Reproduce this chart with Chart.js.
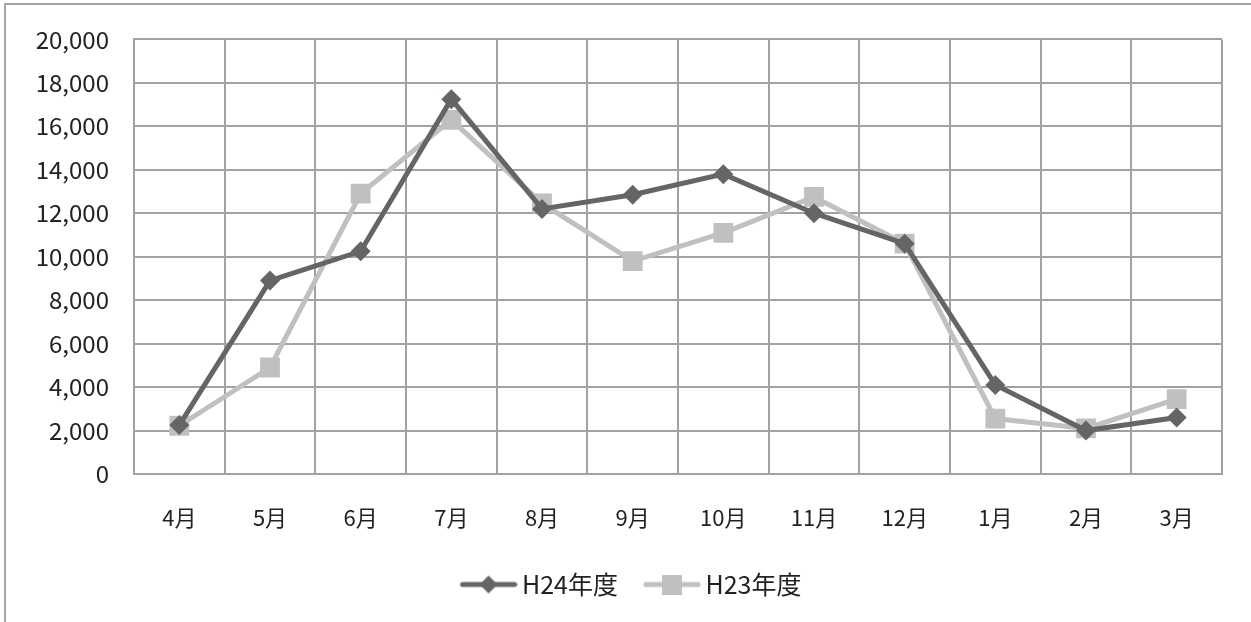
<!DOCTYPE html>
<html><head><meta charset="utf-8">
<script src="https://cdn.jsdelivr.net/npm/chart.js@4"></script>
<style>
html,body{margin:0;padding:0;background:#fff;overflow:hidden}
#wrap{position:absolute;left:0;top:0;width:1251px;height:622px}
#frame{position:absolute;left:4px;top:3px;width:1260px;height:640px;border:2px solid #a6a6a8;box-sizing:border-box}
canvas{position:absolute;left:0;top:0}
</style></head><body>
<div id="wrap"><div id="frame"></div><canvas id="c" width="1251" height="622"></canvas></div>
<script>
const categories = ['4月','5月','6月','7月','8月','9月','10月','11月','12月','1月','2月','3月'];
const h24 = [2250, 8900, 10250, 17250, 12200, 12850, 13800, 12000, 10600, 4100, 2000, 2600];
const h23 = [2220, 4900, 12900, 16300, 12450, 9800, 11100, 12750, 10600, 2550, 2100, 3450];
const yTicks = [0, 2000, 4000, 6000, 8000, 10000, 12000, 14000, 16000, 18000, 20000];

const dark = '#646567', light = '#bfc0c2';
function legendIcon(color, kind){
  const L = 23;
  const c = document.createElement('canvas'); c.width = 58 + L; c.height = 20;
  const x = c.getContext('2d');
  x.translate(L, 0);
  x.strokeStyle = color; x.lineWidth = 5; x.lineCap = 'round';
  x.beginPath(); x.moveTo(3,10); x.lineTo(55,10); x.stroke();
  x.fillStyle = color;
  if (kind === 'd'){ x.beginPath(); x.moveTo(29,1); x.lineTo(38,10); x.lineTo(29,19); x.lineTo(20,10); x.closePath(); x.fill(); }
  else { x.fillRect(19,0,20,20); }
  return c;
}
const font = "'Noto Sans CJK JP','Noto Sans',sans-serif";
const legendShift = { id: 'legendShift', afterLayout(ch){ if (ch.legend){ ch.legend.left += 12; ch.legend.right += 12; } } };
new Chart(document.getElementById('c'), {
  type: 'line',
  data: { labels: categories, datasets: [
    { label: 'H24年度', data: h24, borderColor: dark, backgroundColor: dark, borderWidth: 5,
      pointStyle: 'rectRot', pointRadius: 10, pointHoverRadius: 10, pointBorderWidth: 0, tension: 0 },
    { label: 'H23年度', data: h23, borderColor: light, backgroundColor: light, borderWidth: 5,
      pointStyle: 'rect', pointRadius: 14, pointHoverRadius: 14, pointBorderWidth: 0, tension: 0 }
  ]},
  plugins: [legendShift],
  options: {
    responsive: false, animation: false,
    layout: { padding: { left: 0, right: 29, top: 8, bottom: 15 } },
    plugins: {
      tooltip: { enabled: false },
      legend: { position: 'bottom', labels: {
        usePointStyle: true, pointStyleWidth: 65, boxHeight: 20, color: '#222', font: { family: font, size: 25 }, padding: 10,
        generateLabels: (chart) => chart.data.datasets.map((d, i) => ({
          text: d.label, fillStyle: d.borderColor, strokeStyle: d.borderColor, lineWidth: 0,
          pointStyle: legendIcon(d.borderColor, i === 0 ? 'd' : 's'), datasetIndex: i, hidden: false, fontColor: '#222'
        }))
      } }
    },
    scales: {
      x: { offset: true,
        afterFit: (s) => { s.height = 88; },
        grid: { offset: true, color: '#a2a2a4', lineWidth: 2, drawTicks: false },
        border: { color: '#a2a2a4', width: 2 },
        ticks: { color: '#222', font: { family: font, size: 22 }, padding: 30 } },
      y: { min: 0, max: 20000,
        afterFit: (s) => { s.width = 134; },
        afterBuildTicks: (s) => { s.ticks = yTicks.map(v => ({ value: v })); },
        grid: { color: '#a2a2a4', lineWidth: 2, drawTicks: false },
        border: { color: '#a2a2a4', width: 2 },
        ticks: { color: '#222', font: { family: font, size: 24 }, padding: 25,
          callback: (v) => v.toLocaleString('en-US') } }
    }
  }
});
</script></body></html>
